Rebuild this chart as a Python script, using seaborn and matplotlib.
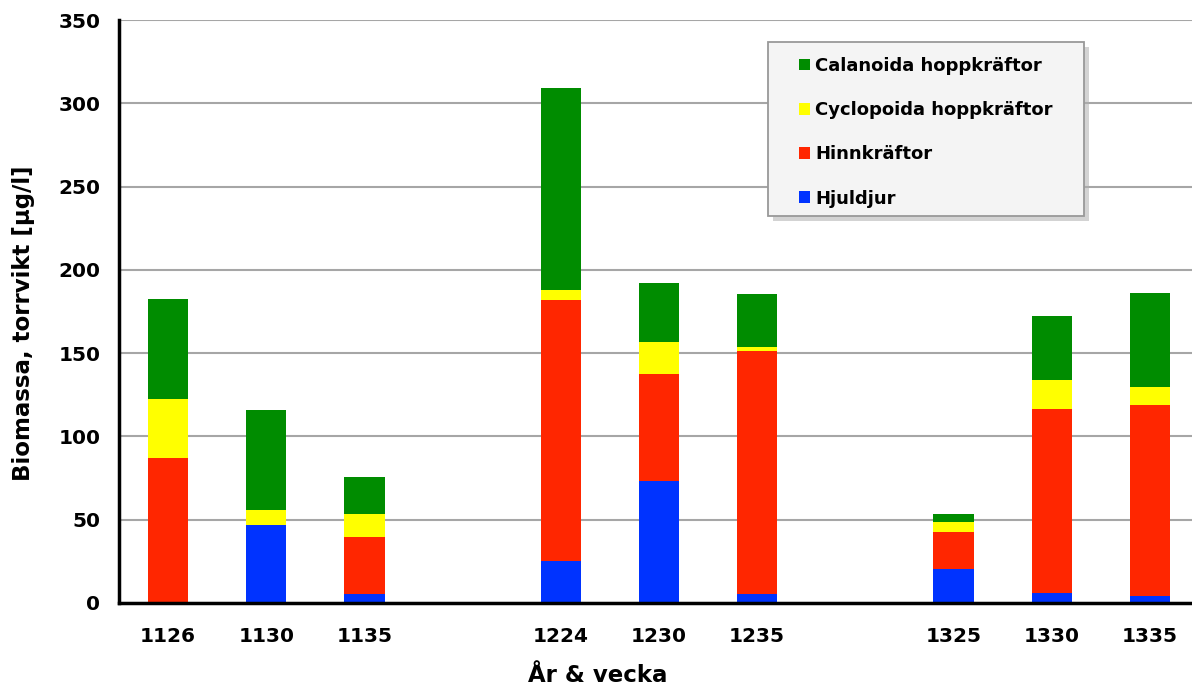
import matplotlib
matplotlib.use("Agg")
import matplotlib.pyplot as plt
from matplotlib.patches import Patch, Rectangle
import seaborn as sns
import pandas as pd
import numpy as np

# Sampling occasions (year & week); blank slots separate the years
occasions = ["1126", "1130", "1135", " ", "1224", "1230", "1235", "  ", "1325", "1330", "1335"]

# Biomass per group, dry weight [µg/l]
hjuldjur = [0.0, 46.8, 5.6, 0.0, 25.0, 73.2, 5.4, 0.0, 20.6, 6.2, 4.2]
hinnkraftor = [87.3, 0.0, 33.8, 0.0, 156.9, 64.4, 146.0, 0.0, 22.2, 110.4, 114.6]
cyclopoida = [35.1, 9.0, 13.8, 0.0, 6.0, 19.2, 2.5, 0.0, 6.0, 17.5, 11.0]
calanoida = [60.0, 60.0, 22.4, 0.0, 121.4, 35.2, 31.5, 0.0, 4.4, 38.4, 56.3]

series_names = ["Hjuldjur", "Hinnkräftor", "Cyclopoida hoppkräftor", "Calanoida hoppkräftor"]
series_colors = ["#0033ff", "#ff2600", "#ffff00", "#008c00"]

sns.set_style("white")
plt.rcParams["font.family"] = ["DejaVu Sans"]
plt.rcParams["font.weight"] = "bold"
plt.rcParams["text.color"] = "black"
plt.rcParams["axes.labelcolor"] = "black"
plt.rcParams["xtick.color"] = "black"
plt.rcParams["ytick.color"] = "black"

df = pd.DataFrame({
    "occasion": occasions,
    "Hjuldjur": hjuldjur,
    "Hinnkräftor": hinnkraftor,
    "Cyclopoida hoppkräftor": cyclopoida,
    "Calanoida hoppkräftor": calanoida,
})
# cumulative tops for stacking
cum = df[series_names].cumsum(axis=1)

W, H = 1192, 686
fig = plt.figure(figsize=(W / 100, H / 100), dpi=100)
ax_l, ax_b, ax_w, ax_h = 119, 83, 1080, 583
ax = fig.add_axes([ax_l / W, ax_b / H, ax_w / W, ax_h / H])


def px_to_axes(x, y):
    """Convert pixel coordinates (from top-left) to axes fractions."""
    return (x - ax_l) / ax_w, ((H - y) - ax_b) / ax_h


# draw from the full stack down so lower segments overlay upper ones
for name, color in reversed(list(zip(series_names, series_colors))):
    sns.barplot(x=df["occasion"], y=cum[name], order=occasions, color=color,
                width=0.41, linewidth=0, saturation=1, ax=ax, zorder=3)

ax.set_ylim(0, 350)
ax.set_xlim(-0.5, len(occasions) - 0.5)
ax.set_yticks(np.arange(0, 351, 50))
ax.yaxis.grid(True, color="#a6a6a6", linewidth=1.5, zorder=0)
ax.set_axisbelow(True)

for side in ["top", "right"]:
    ax.spines[side].set_visible(False)
for side in ["left", "bottom"]:
    ax.spines[side].set_linewidth(2.5)
    ax.spines[side].set_color("black")
    ax.spines[side].set_zorder(5)

# labels at category centres, tick marks on the boundaries
ax.set_xticks(range(len(occasions)))
ax.set_xticklabels(occasions, fontsize=14.5, fontweight="bold")
ax.tick_params(axis="x", which="major", length=0, pad=17)
ax.set_xticks(np.arange(0.5, len(occasions) - 0.5, 1.0), minor=True)
ax.tick_params(axis="x", which="minor", length=4.5, width=2.5, direction="out", color="black")
ax.tick_params(axis="y", length=4.5, width=2.5, direction="out", pad=9, labelsize=14.5, color="black")
for lbl in ax.get_yticklabels():
    lbl.set_fontweight("bold")

ax.set_xlabel("År & vecka", fontsize=16.5, fontweight="bold")
ax.set_ylabel("Biomassa, torrvikt [µg/l]", fontsize=16.5, fontweight="bold")
ax.xaxis.set_label_coords(*px_to_axes(598, 675))
ax.yaxis.set_label_coords(*px_to_axes(24, 323))
ax.xaxis.label.set_va("center")
ax.yaxis.label.set_va("center")

# legend panel with a soft drop shadow
bx0, by0 = px_to_axes(768, 216)
bx1, by1 = px_to_axes(1084, 42)
sx, sy = 5 / ax_w, 5 / ax_h
ax.add_patch(Rectangle((bx0 + sx, by0 - sy), bx1 - bx0, by1 - by0, transform=ax.transAxes,
                       facecolor="#b0b0b0", edgecolor="none", alpha=0.55, zorder=8, clip_on=False))
ax.add_patch(Rectangle((bx0, by0), bx1 - bx0, by1 - by0, transform=ax.transAxes,
                       facecolor="#f4f4f4", edgecolor="#999999", linewidth=1.3, zorder=9, clip_on=False))

handles = [Patch(facecolor=c, edgecolor="none") for c in reversed(series_colors)]
leg = ax.legend(handles, list(reversed(series_names)), loc="upper left",
                bbox_to_anchor=px_to_axes(799, 57), borderaxespad=0, borderpad=0,
                prop={"size": 13, "weight": "bold"}, frameon=False,
                handlelength=0.6, handleheight=0.6, handletextpad=0.3, labelspacing=1.45)
leg.set_zorder(10)
for t in leg.get_texts():
    t.set_color("black")

fig.savefig("out.png", dpi=100)
